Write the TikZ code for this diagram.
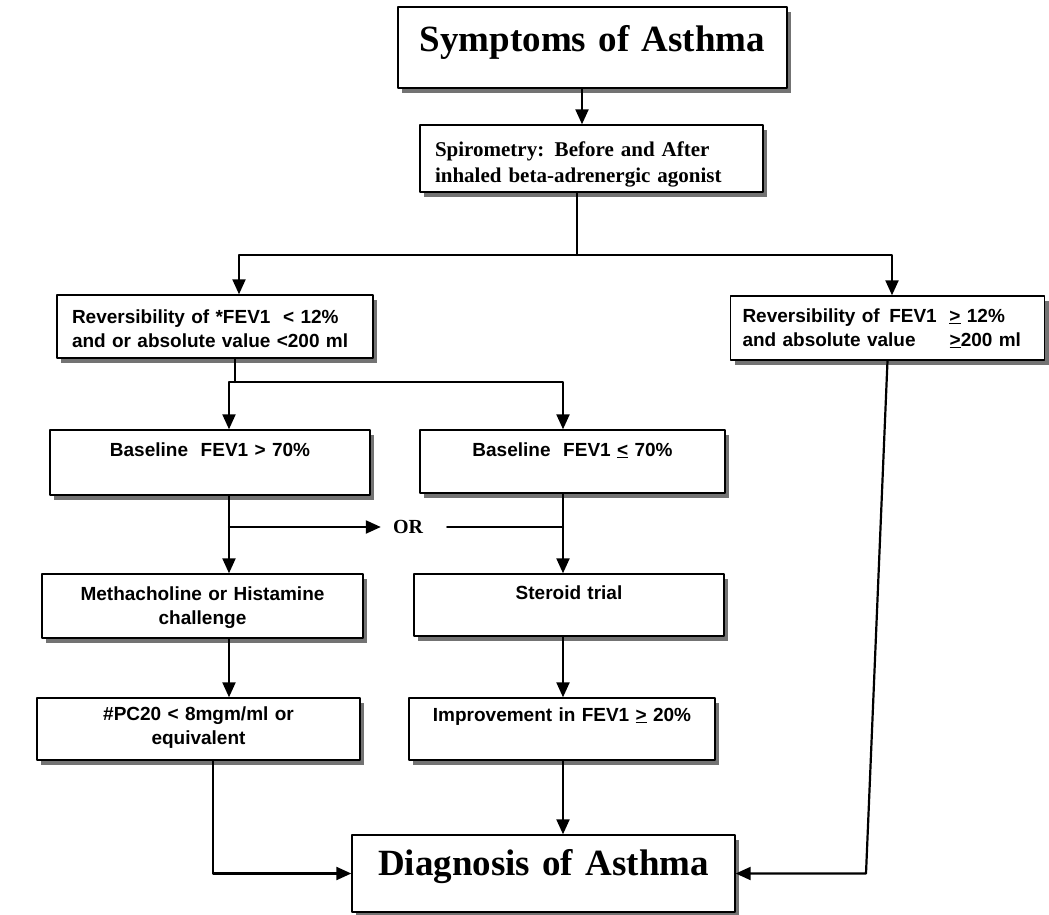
\documentclass[tikz,border=0pt]{standalone}
\usepackage{fontspec}
\setmainfont{Liberation Serif}
\newfontfamily\arial{Liberation Sans}
\usetikzlibrary{arrows.meta,shadows,calc}

\tikzset{
  box/.style={draw, line width=1.4pt, fill=white, inner ysep=0pt,
    drop shadow={shadow xshift=4pt,shadow yshift=-5pt,fill=black!55,opacity=1}},
  sbox/.style={box, inner xsep=0pt, align=center,
    font=\arial\bfseries\fontsize{19}{24}\selectfont},
  lbox/.style={sbox, inner xsep=15pt, align=left},
  dims/.style n args={3}{text width=#1, text height=#2, text depth=#3},
  link/.style={line width=2.2pt},
}

\begin{document}
\begin{tikzpicture}[x=1pt,y=-1pt,line cap=round,line join=round,
  >={Triangle[length=15pt,width=13pt]}]
\useasboundingbox (0,0) rectangle (1049,915);

% boxes
\node[box, inner xsep=0pt, align=center, dims={389pt}{45pt}{36pt},
  font=\bfseries\fontsize{37}{44}\selectfont] (sym) at (592.5,47.5) {Symptoms of Asthma};
\node[box, inner xsep=15pt, align=left, dims={313pt}{32pt}{35pt},
  font=\bfseries\fontsize{21}{26}\selectfont] (spiro) at (591.5,158.5)
  {Spirometry: Before and After\\inhaled beta-adrenergic agonist};
\node[lbox, dims={286pt}{28pt}{35pt}] (revL) at (215,326.5)
  {Reversibility of *FEV1 \ {<} 12\%\\and or absolute value <200 ml};
\node[lbox, dims={290pt}{26pt}{38pt}, inner xsep=12pt] (revR) at (887.5,328)
  {Reversibility of \,FEV1 \ \underline{>} 12\%\\and absolute value\hspace{34pt}\underline{>}200 ml};
\node[sbox, dims={320pt}{26pt}{39pt}] (baseL) at (210,462.5) {Baseline \ FEV1 > 70\%};
\node[sbox, dims={305pt}{26pt}{37pt}] (baseR) at (572.5,461.5) {Baseline \ FEV1 \underline{<} 70\%};
\node[sbox, dims={321pt}{26pt}{38pt}] (meth) at (202.5,606)
  {Methacholine or Histamine\\challenge};
\node[sbox, dims={310pt}{25pt}{37pt}] (steroid) at (569,605) {Steroid trial};
\node[sbox, dims={323pt}{22pt}{40pt}] (pc20) at (198.5,729)
  {\#PC20 < 8mgm/ml or\\equivalent};
\node[sbox, dims={306pt}{23pt}{39pt}] (impr) at (562,729) {Improvement in FEV1 \underline{>} 20\%};
\node[box, inner xsep=0pt, align=center, dims={383pt}{40pt}{37pt},
  font=\bfseries\fontsize{37}{44}\selectfont] (diag) at (543.5,873.5) {Diagnosis of Asthma};
\node[font=\bfseries\fontsize{20}{24}\selectfont, inner xsep=12pt] (or) at (408,527) {OR};

% joints
\coordinate (j1) at (582,0);
\coordinate (j2) at (577,255);
\coordinate (j3) at (239,0);
\coordinate (j4) at (892,0);
\coordinate (j5) at (235,382);
\coordinate (j6) at (229,527);
\coordinate (j7) at (563,527);
\coordinate (j8) at (213,873.5);
\coordinate (j9) at (866,873.5);

% connectors
\draw[link,->] (sym.south -| j1) -- (spiro.north -| j1);
\draw[link] (spiro.south -| j2) -- (j2);
\draw[link,->] (j2) -| (revL.north -| j3);
\draw[link,->] (j2) -| (revR.north -| j4);
\draw[link] (revL.south -| j5) -- (j5);
\draw[link,->] (j5) -| (baseL.north -| j6);
\draw[link,->] (j5) -| (baseR.north -| j7);
\draw[link,->] (baseL.south -| j6) -- (meth.north -| j6);
\draw[link,->] (j6) -- (or.west);
\draw[link] ([xshift=12pt]or.east) -- (j7);
\draw[link,->] (baseR.south -| j7) -- (steroid.north -| j7);
\draw[link,->] (meth.south -| j6) -- (pc20.north -| j6);
\draw[link,->] (steroid.south -| j7) -- (impr.north -| j7);
\draw[link,->] (impr.south -| j7) -- (diag.north -| j7);
\draw[link,->] (pc20.south -| j8) -- (j8) -- (diag.west);
\draw[link,->] (revR.south) -- (j9) -- (diag.east);
\end{tikzpicture}
\end{document}
